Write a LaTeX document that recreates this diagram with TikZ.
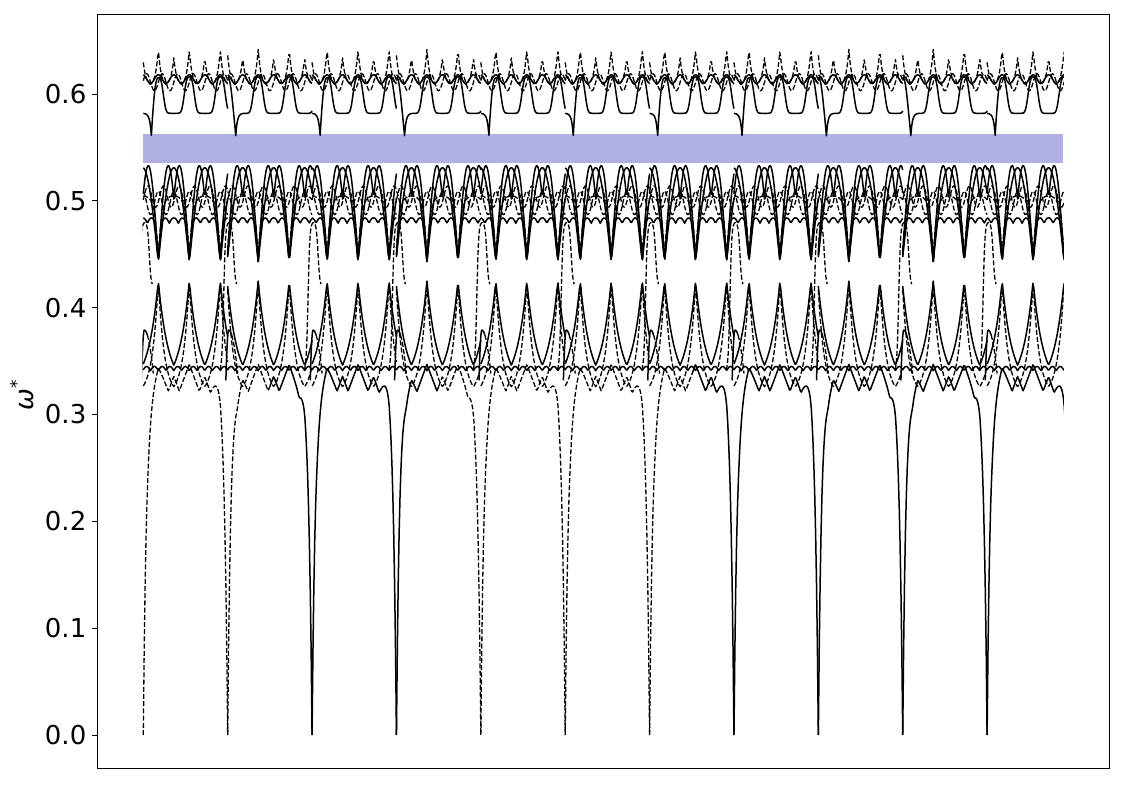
\documentclass[tikz,border=0pt]{standalone}
\usepackage{fontspec}
\setmainfont{DejaVu Sans}
\definecolor{gapcol}{RGB}{176,176,226}
\begin{document}
\begin{tikzpicture}[x=1pt,y=1pt,
  sld/.style={line width=1.5pt,line join=round,black},
  dsh/.style={line width=1.3pt,line join=round,black,dash pattern=on 5pt off 2.2pt},
  axline/.style={line width=1pt,black},
  lbl/.style={anchor=east,inner sep=0pt,font=\fontsize{26}{31}\selectfont},
  declare function={
    bph(\x)=mod(\x-\kh+78,31);
    bdp(\x)=min(bph(\x),31-bph(\x));
    bdq(\x)=min(mod(bph(\x),15.5),15.5-mod(bph(\x),15.5));
    bdz(\x)=min(\x,84.38-\x);
    fac(\x)=(1-exp(-min(bdz(\x)/3.3,9)))*(0.322+0.0025*abs(bdp(\x)-10));
    fla(\x)=0.341+0.004*abs(sin(180*bph(\x)/7.75));
    flb(\x)=0.325+0.10*exp(-bdp(\x)/10);
    flc(\x)=0.318+0.107*exp(-bdp(\x)/6);
    fma(\x)=0.443+0.09*sin(180*bdp(\x)/20);
    fmb(\x)=0.443+0.088*sin(180*bph(\x)/31);
    fmc(\x)=min(0.443+0.012*bdp(\x),0.479+0.005*abs(sin(180*(bdp(\x)-3)/8)));
    fda(\x)=0.498+0.011*cos(360*bph(\x)/15.5);
    fdb(\x)=0.504-0.010*cos(360*bph(\x)/15.5+60);
    fdc(\x)=0.445+0.06*(1-exp(-bdp(\x)/3));
    fuw(\x)=exp(-min(abs(\x-8)/1.6,9));
    fua(\x)=(0.582+0.034*exp(-min((bdp(\x)/5.8)^3,9)))*(1-fuw(\x))+0.56*fuw(\x);
    fub(\x)=0.614+0.004*cos(360*bph(\x)/15.5);
    fuc(\x)=0.607+(0.031+0.004*cos(360*bph(\x)/31))*exp(-bdq(\x)/2.8);
    fud(\x)=0.611+0.008*cos(360*(bph(\x)-3.9)/15.5);
    fbm(\x)=0.379-(\x<1)*0.006*(\x-1)*(\x-1)-(\x>=1)*0.0005*(\x-1)*(\x-1);
    fcc(\x)=(\x>=1)*(0.42+0.06/(1+exp(max(min((\x-6)/0.9,9),-9))))+(\x<1)*(0.34+0.14/(1+exp(max(min(-(\x+4)/0.9,9),-9))));
  }]
\useasboundingbox (0,0) rectangle (1125,785);
\begin{scope}[y=1068.3pt,yshift=50pt]
  \fill[gapcol] (143.3,0.5354) rectangle (1063.3,0.5626);
  \begin{scope}
    \clip (142.4,-0.2) rectangle (1063.9,0.8);
    \foreach \k/\kh/\ka/\kb in {0/0/dsh/dsh,1/15.5/dsh/sld,2/0/sld/sld,3/15.5/sld/dsh,4/0/dsh/dsh,5/0/dsh/dsh,6/0/dsh/sld,7/0/sld/sld,8/15.5/sld/sld,9/15.5/sld/sld,10/0/sld/sld}{
      \pgfmathsetmacro{\z}{143.3+84.38*\k}
      \draw[\ka] plot[domain=0:42.19,samples=48] ({\z+\x},{fac(\x)});
      \draw[\kb] plot[domain=42.19:84.38,samples=48] ({\z+\x},{fac(\x)});
      \draw[sld] plot[domain=0:84.38,samples=95] ({\z+\x},{fla(\x)});
      \draw[sld] plot[domain=0:84.38,samples=95] ({\z+\x},{flb(\x)});
      \draw[dsh] plot[domain=0:84.38,samples=95] ({\z+\x},{flc(\x)});
      \draw[sld] plot[domain=0:84.38,samples=95] ({\z+\x},{fma(\x)});
      \draw[sld] plot[domain=0:84.38,samples=95] ({\z+\x},{fmb(\x)});
      \draw[sld] plot[domain=0:84.38,samples=95] ({\z+\x},{fmc(\x)});
      \draw[dsh] plot[domain=0:84.38,samples=95] ({\z+\x},{fda(\x)});
      \draw[dsh] plot[domain=0:84.38,samples=95] ({\z+\x},{fdb(\x)});
      \draw[dsh] plot[domain=0:84.38,samples=95] ({\z+\x},{fdc(\x)});
      \draw[sld] plot[domain=0:84.38,samples=95] ({\z+\x},{fua(\x)});
      \draw[sld] plot[domain=0:84.38,samples=95] ({\z+\x},{fub(\x)});
      \draw[dsh] plot[domain=0:84.38,samples=95] ({\z+\x},{fuc(\x)});
      \draw[dsh] plot[domain=0:84.38,samples=95] ({\z+\x},{fud(\x)});
    }
    \foreach \j in {0,...,10}{
      \pgfmathsetmacro{\zz}{143.3+84.38*\j}
      \draw[sld] plot[domain=-1.8:4,samples=20] ({\zz+\x},{fbm(\x)});
      \draw[dsh] plot[domain=4:10,samples=15] ({\zz+\x},{fbm(\x)});
      \draw[dsh] plot[domain=-8:9,samples=50] ({\zz+\x},{fcc(\x)});
    }
  \end{scope}
  \foreach \v/\t [count=\i] in {0/0.0,0.1/0.1,0.2/0.2,0.3/0.3,0.4/0.4,0.5/0.5,0.6/0.6}{
    \draw[axline] (92,\v) -- (97,\v);
    \node[lbl] (tl\i) at (86.5,\v) {\t};
  }
  \node[rotate=90,inner sep=0pt,font=\fontsize{26}{31}\selectfont] (ylab) at (22,0.318) {{\itshape ω}\raisebox{0.42em}{\fontsize{17}{17}\selectfont *}};
  \draw[axline] (97,-0.0309) rectangle (1109,0.6749);
\end{scope}
\end{tikzpicture}
\end{document}
